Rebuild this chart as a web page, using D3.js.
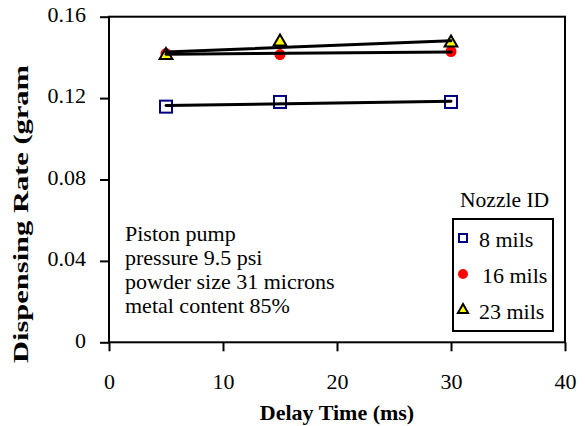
<!DOCTYPE html>
<html>
<head>
<meta charset="utf-8">
<script src="https://cdn.jsdelivr.net/npm/d3@7"></script>
<style>
  body { margin: 0; background: #fff; }
</style>
</head>
<body>
<div id="chart"></div>
<script>
// Dispensing rate vs delay time, three nozzle sizes

// Data
const delays = [5, 15, 30];
const rate8 = [0.1158, 0.1181, 0.1181];
const rate16 = [0.1419, 0.1414, 0.1429];
const rate23 = [0.141, 0.1477, 0.1471];
const seriesNames = ["8 mils", "16 mils", "23 mils"];
const xTicks = [0, 10, 20, 30, 40];
const yTicks = [0, 0.04, 0.08, 0.12, 0.16];
const yTickLabels = ["0", "0.04", "0.08", "0.12", "0.16"];
const notes = ["Piston pump", "pressure 9.5 psi", "powder size 31 microns", "metal content 85%"];

const width = 585;
const height = 426;
const plotLeft = 109, plotRight = 565, plotTop = 16.7, plotBottom = 342.3;
const regularFont = "Nimbus Roman";
const boldFont = "Liberation Serif";
// regular text is set at 20px (the size that picks the serif face) and scaled up
const textScale = 1.1;

const svg = d3.select("#chart")
  .append("svg")
  .attr("width", width)
  .attr("height", height);

const x = d3.scaleLinear().domain([0, 40]).range([plotLeft, plotRight]);
const y = d3.scaleLinear().domain([0, 0.16]).range([plotBottom, plotTop]);

const series = [rate8, rate16, rate23].map((v, i) => ({
  name: seriesNames[i],
  points: delays.map((d, j) => ({ x: d, y: v[j] }))
}));

// least squares line, like the spreadsheet trendline
function fit(points) {
  const mx = d3.mean(points, p => p.x);
  const my = d3.mean(points, p => p.y);
  const sxy = d3.sum(points, p => (p.x - mx) * (p.y - my));
  const sxx = d3.sum(points, p => (p.x - mx) * (p.x - mx));
  const b = sxy / sxx;
  const ext = d3.extent(points, p => p.x);
  return ext.map(v => ({ x: v, y: my + b * (v - mx) }));
}

function regularText(sel) {
  return sel.attr("font-family", regularFont).attr("font-size", 20).attr("fill", "#000");
}

// markers
const square = (g, s) => g.append("rect")
  .attr("x", -s / 2).attr("y", -s / 2)
  .attr("width", s).attr("height", s)
  .attr("fill", "none").attr("stroke", "#000080").attr("stroke-width", 2);
const dot = (g, r) => g.append("circle")
  .attr("r", r).attr("fill", "#ff0000");
const tri = (g, s) => g.append("path")
  .attr("d", d3.symbol(d3.symbolTriangle, s)())
  .attr("fill", "#ffff00").attr("stroke", "#000").attr("stroke-width", 2)
  .attr("stroke-linejoin", "miter");
const drawMarker = [
  (g, big) => square(g, big ? 12 : 8),
  (g, big) => dot(g, big ? 5.5 : 5),
  (g, big) => tri(g, big ? 70 : 45)
];

// axes
const yAxis = svg.append("g")
  .attr("transform", `translate(${plotLeft},0)`)
  .call(d3.axisLeft(y).tickValues(yTicks).tickSize(9).tickPadding(12)
    .tickFormat((d, i) => yTickLabels[i]));
const xAxis = svg.append("g")
  .attr("transform", `translate(0,${plotBottom})`)
  .call(d3.axisBottom(x).tickValues(xTicks).tickSize(9).tickPadding(19));

[yAxis, xAxis].forEach(a => {
  a.attr("font-family", regularFont).attr("font-size", 20);
  a.select(".domain").remove();
  a.selectAll("line").attr("stroke", "#000").attr("stroke-width", 2);
  a.selectAll("text").call(regularText).attr("transform", `scale(${textScale})`);
});
yAxis.selectAll("text").attr("dy", "0.22em");

// plot frame
svg.append("rect")
  .attr("x", plotLeft).attr("y", plotTop)
  .attr("width", plotRight - plotLeft).attr("height", plotBottom - plotTop)
  .attr("fill", "none").attr("stroke", "#000").attr("stroke-width", 2);

// data markers
series.forEach((s, i) => {
  svg.append("g").selectAll("g")
    .data(s.points)
    .join("g")
      .attr("transform", p => `translate(${x(p.x)},${y(p.y)})`)
      .each(function() { drawMarker[i](d3.select(this), true); });
});

// trendlines on top
const line = d3.line().x(p => x(p.x)).y(p => y(p.y));
series.forEach(s => {
  svg.append("path")
    .datum(fit(s.points))
    .attr("d", line)
    .attr("fill", "none")
    .attr("stroke", "#000")
    .attr("stroke-width", 3)
    .attr("stroke-linecap", "round");
});

// axis titles
svg.append("text")
  .attr("x", (plotLeft + plotRight) / 2).attr("y", 420)
  .attr("text-anchor", "middle")
  .attr("font-family", boldFont).attr("font-weight", "bold")
  .attr("font-size", 22)
  .text("Delay Time (ms)");

svg.append("text")
  .attr("transform", "translate(28,363) rotate(-90)")
  .attr("font-family", boldFont).attr("font-weight", "bold")
  .attr("font-size", 21)
  .attr("textLength", 298).attr("lengthAdjust", "spacingAndGlyphs")
  .text("Dispensing Rate (gram");

// notes
svg.append("g").selectAll("text")
  .data(notes)
  .join("text")
    .attr("transform", (d, i) => `translate(125,${241 + i * 24}) scale(${textScale})`)
    .call(regularText)
    .text(d => d);

// legend
svg.append("text")
  .attr("transform", `translate(460,207) scale(${textScale * 0.98})`)
  .call(regularText)
  .text("Nozzle ID");

svg.append("rect")
  .attr("x", 453).attr("y", 219)
  .attr("width", 100).attr("height", 112)
  .attr("fill", "#fff").attr("stroke", "#000").attr("stroke-width", 2);

const item = svg.append("g").selectAll("g")
  .data(series)
  .join("g")
    .attr("transform", (d, i) => `translate(463,${238 + i * 36})`);
item.each(function(d, i) { drawMarker[i](d3.select(this), false); });
item.append("text")
  .attr("transform", (d, i) => `translate(${i === 1 ? 19 : 16},9) scale(${textScale})`)
  .call(regularText)
  .text(d => d.name);
</script>
</body>
</html>
